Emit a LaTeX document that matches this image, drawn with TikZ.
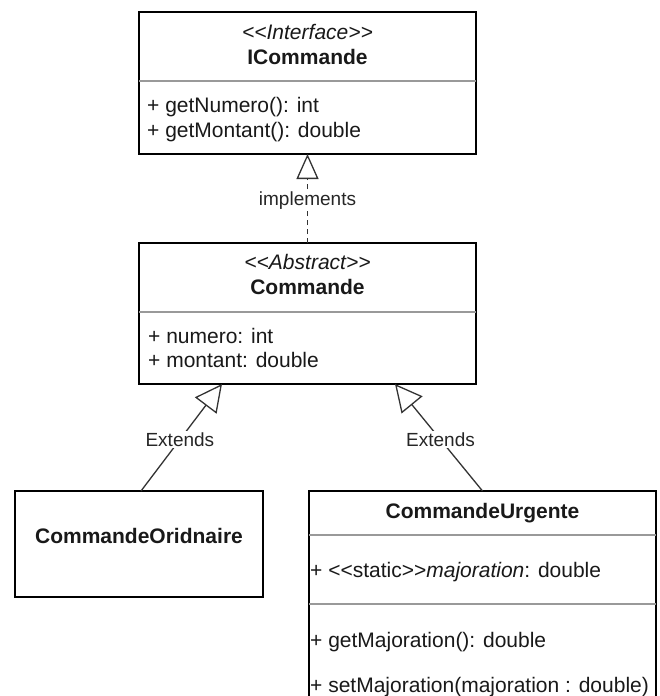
\documentclass[tikz,border=0pt]{standalone}
\usepackage{fontspec}
\newfontfamily\umlfont{Liberation Sans}
\usetikzlibrary{arrows.meta}
\begin{document}
\begin{tikzpicture}[x=1pt,y=-1pt,
  umlbox/.style={draw=black, line width=1.5pt, fill=white, inner sep=0pt, outer sep=0pt, anchor=north west},
  sepline/.style={draw=black!40, line width=1.3pt},
  txt/.style={inner sep=0pt, font=\umlfont\fontsize{21}{24}\selectfont, text=black!90},
  lbl/.style={inner sep=1.5pt, fill=white, font=\umlfont\fontsize{19}{22}\selectfont, text=black!85},
  conn/.style={draw=black!80, line width=1.3pt},
  realize/.style={conn, dash pattern=on 5pt off 4pt, -{Triangle[open, length=25pt, width=22pt, line width=1.3pt]}},
  inherit/.style={conn, -{Triangle[open, length=27pt, width=27pt, line width=1.3pt]}}
]
\useasboundingbox (0,0) rectangle (660,696);
\clip (0,0) rectangle (660,696);
\fill[white] (0,0) rectangle (660,696);

% ICommande
\node[umlbox, minimum width=337pt, minimum height=142pt] (icmd) at (139,12) {};
\draw[sepline] (icmd.west |- 0,81) -- (icmd.east |- 0,81);
\node[txt, anchor=base] (icmdst) at (307.5,39) {\itshape <<Interface>>};
\node[txt, anchor=base] (icmdnm) at (307.5,64) {\bfseries ICommande};
\node[txt, anchor=base west] (icmda) at (147,112) {+ getNumero(): int};
\node[txt, anchor=base west] (icmdb) at (147,137) {+ getMontant(): double};

% Commande
\node[umlbox, minimum width=337pt, minimum height=141pt] (cmd) at (139,243) {};
\draw[sepline] (cmd.west |- 0,312) -- (cmd.east |- 0,312);
\node[txt, anchor=base] (cmdst) at (307.5,269) {\itshape <<Abstract>>};
\node[txt, anchor=base] (cmdnm) at (307.5,294) {\bfseries Commande};
\node[txt, anchor=base west] (cmda) at (148,343) {+ numero: int};
\node[txt, anchor=base west] (cmdb) at (148,367) {+ montant: double};

% CommandeOridnaire
\node[umlbox, minimum width=248pt, minimum height=106pt] (ord) at (15,491) {};
\node[txt, anchor=base] (ordnm) at (139,543) {\bfseries CommandeOridnaire};

% CommandeUrgente
\node[umlbox, minimum width=347pt, minimum height=240pt] (urg) at (309,491) {};
\draw[sepline] (urg.west |- 0,535) -- (urg.east |- 0,535);
\draw[sepline] (urg.west |- 0,604) -- (urg.east |- 0,604);
\node[txt, anchor=base] (urgnm) at (482.5,518) {\bfseries CommandeUrgente};
\node[txt, anchor=base west] (urga) at (310,577) {+ <<static>>\textit{majoration}: double};
\node[txt, anchor=base west] (urgb) at (310,647) {+ getMajoration(): double};
\node[txt, anchor=base west] (urgc) at (310,692) {+ setMajoration(majoration : double)};

% connectors
\draw[realize] (cmd.north) -- node[lbl, pos=0.48] (implbl) {implements} (icmd.south);
\draw[inherit] ([xshift=2pt]ord.north) -- node[lbl, pos=0.48] (ext1) {Extends} ([xshift=-85.5pt]cmd.south);
\draw[inherit] (urg.north) -- node[lbl, pos=0.48] (ext2) {Extends} ([xshift=87.5pt]cmd.south);
\end{tikzpicture}
\end{document}
